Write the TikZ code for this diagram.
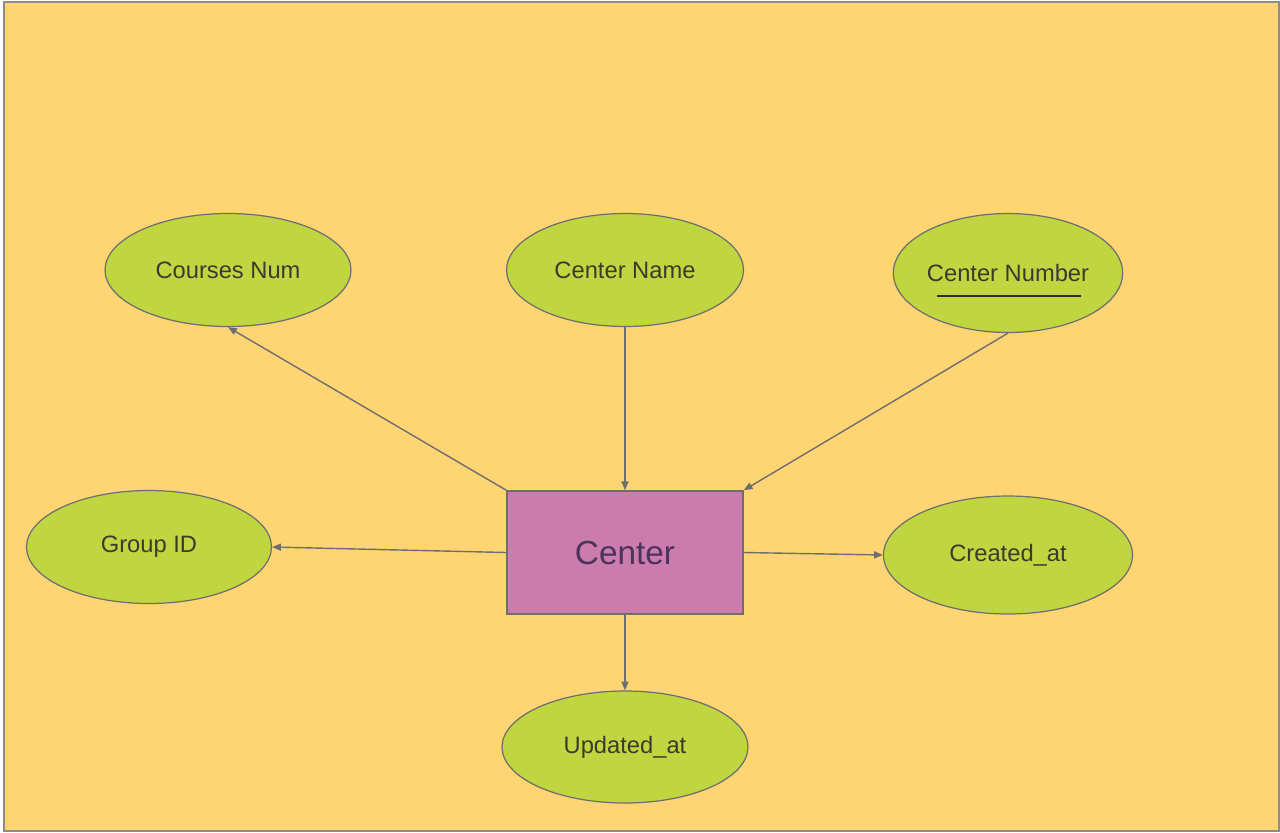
\documentclass[tikz,border=0pt]{standalone}
\usepackage{fontspec}
\setmainfont{Liberation Sans}
\usetikzlibrary{shapes.geometric,arrows.meta}

\definecolor{bgyellow}{HTML}{FFD472}
\definecolor{attrgreen}{HTML}{BFD641}
\definecolor{entpink}{HTML}{CB7BAE}
\definecolor{edgegrey}{HTML}{6E6E70}
\definecolor{txtdark}{HTML}{3B3A2E}
\definecolor{enttxt}{HTML}{4A3556}

\tikzset{
	attr/.style={ellipse, draw=edgegrey, line width=0.7pt, fill=attrgreen, inner sep=0pt,
		text=txtdark, font=\fontsize{13.5}{16}\selectfont},
	entity/.style={rectangle, draw=edgegrey, line width=0.9pt, fill=entpink, inner sep=0pt,
		text=enttxt, font=\fontsize{19}{22}\selectfont},
	link/.style={-{Triangle[length=5pt,width=4pt]}, draw=edgegrey, line width=0.8pt}
}

\begin{document}
\begin{tikzpicture}[x=0.02cm, y=-0.02cm]
	\useasboundingbox (0,0) rectangle (1280,832);
	\draw[fill=bgyellow, draw=gray!90, line width=1.2pt] (4,2) rectangle (1279,831);
	
	% entity and its attributes
	\node[entity, minimum width=4.72cm, minimum height=2.46cm] (center) at (625,552.5) {Center};
	
	\node[attr, minimum width=4.92cm, minimum height=2.26cm] (cnum) at (228,270) {Courses Num};
	\node[attr, minimum width=4.74cm, minimum height=2.26cm] (cname) at (625,270) {Center Name};
	\node[attr, minimum width=4.48cm, minimum height=2.38cm] (cnumber) at (1008,273) {Center Number};
	\node[attr, minimum width=4.90cm, minimum height=2.26cm] (gid) at (149,547) {Group ID};
	\node[attr, minimum width=4.98cm, minimum height=2.36cm] (created) at (1008,555) {Created\_at};
	\node[attr, minimum width=4.92cm, minimum height=2.24cm] (updated) at (625,747) {Updated\_at};
	
	% key underline
	\draw[txtdark!80!black, line width=1.3pt] ([xshift=-1.42cm,yshift=-0.46cm]cnumber.center) -- ([xshift=1.46cm,yshift=-0.46cm]cnumber.center);
	
	\draw[link] (center.north west) -- (cnum.south);
	\draw[link] (cname.south) -- (center.north);
	\draw[link] (cnumber.south) -- (center.north east);
	\draw[link] (center.west) -- (gid.east);
	\draw[link] (center.east) -- (created.west);
	\draw[link] (center.south) -- (updated.north);
\end{tikzpicture}
\end{document}
